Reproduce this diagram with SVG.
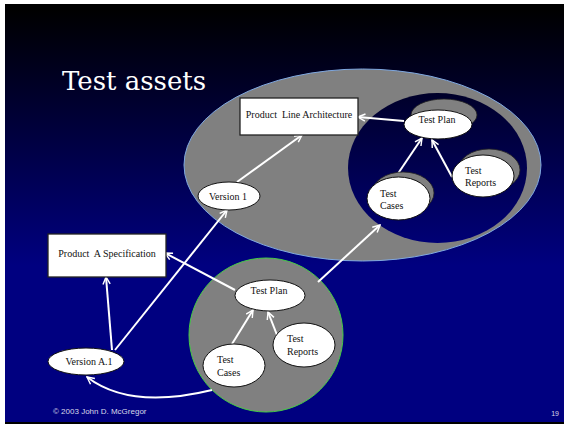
<svg xmlns="http://www.w3.org/2000/svg" width="565" height="426" viewBox="0 0 565 426">
  <defs>
    <!-- slide background: black at the top fading into navy -->
    <linearGradient id="bg" gradientUnits="userSpaceOnUse" x1="0" y1="10" x2="0" y2="265">
      <stop offset="0" stop-color="#000000"/>
      <stop offset="1" stop-color="#000080"/>
    </linearGradient>
    <marker id="open" viewBox="0 0 10 10" refX="9" refY="5" markerWidth="9" markerHeight="9" orient="auto" markerUnits="userSpaceOnUse">
      <path d="M1,1 L9,5 L1,9" fill="none" stroke="#ffffff" stroke-width="1.6"/>
    </marker>
    <style>
      .node { fill: #ffffff; stroke: #111111; stroke-width: 1; }
      .shadow { fill: #808080; stroke: #222222; stroke-width: 0.8; }
      .box { fill: #ffffff; stroke: #222222; stroke-width: 1.3; }
      .lbl { font-family: "Liberation Serif", "Times New Roman", serif; font-size: 10px; fill: #111111; }
      .mid { text-anchor: middle; }
      .conn { fill: none; stroke: #ffffff; stroke-width: 2; marker-end: url(#open); }
    </style>
  </defs>

  <!-- frame and background -->
  <rect x="0" y="0" width="565" height="426" fill="#ffffff"/>
  <rect x="5" y="4" width="559" height="420" fill="#000000"/>
  <rect x="5" y="4" width="559" height="418" fill="url(#bg)"/>

  <text x="62" y="90" font-family="DejaVu Serif, 'Liberation Serif', serif" font-size="26" fill="#ffffff">Test assets</text>

  <!-- product line container with its test area -->
  <g id="product-line">
    <ellipse cx="362.5" cy="165" rx="178.5" ry="96" fill="#808080" stroke="#7fa8e0" stroke-width="1"/>
    <ellipse cx="437.5" cy="168" rx="89.5" ry="75" fill="url(#bg)"/>
  </g>

  <!-- product A container -->
  <g id="product-a">
    <circle cx="266" cy="335" r="77" fill="#808080" stroke="#44cc44" stroke-width="1"/>
  </g>

  <g id="connectors">
    <path class="conn" d="M237,182 L302,135"/>
    <path class="conn" d="M404,121 L358,117"/>
    <path class="conn" d="M395,178 L422,138"/>
    <path class="conn" d="M452,177 L432,140"/>
    <path class="conn" d="M112,350 L106,277"/>
    <path class="conn" d="M115,350 L227,210"/>
    <path class="conn" d="M235,290 L165,253"/>
    <path class="conn" d="M318,282 L380,225"/>
    <path class="conn" d="M232,344 L253,310"/>
    <path class="conn" d="M277,335 L268,312"/>
    <path class="conn" d="M212,390 Q130,410 87,377"/>
  </g>

  <g id="pla">
    <rect class="box" x="240" y="98" width="118" height="37"/>
    <text class="lbl mid" x="299" y="117.5" xml:space="preserve">Product  Line Architecture</text>
  </g>

  <g id="version-1">
    <ellipse class="node" cx="229" cy="196" rx="31" ry="14"/>
    <text class="lbl mid" x="228" y="199.5">Version 1</text>
  </g>

  <g id="pl-test-plan">
    <ellipse class="shadow" cx="444" cy="115" rx="33" ry="16"/>
    <ellipse class="node" cx="438" cy="124.5" rx="34" ry="14.5"/>
    <text class="lbl mid" x="437" y="122.5">Test Plan</text>
  </g>

  <g id="pl-test-reports">
    <ellipse class="shadow" cx="489" cy="170" rx="31" ry="21"/>
    <ellipse class="node" cx="483" cy="176" rx="31" ry="21"/>
    <text class="lbl" x="465" y="173.5">Test</text>
    <text class="lbl" x="465" y="185.5">Reports</text>
  </g>

  <g id="pl-test-cases">
    <ellipse class="shadow" cx="403" cy="193" rx="31" ry="21"/>
    <ellipse class="node" cx="398.5" cy="198.5" rx="31.5" ry="21.5"/>
    <text class="lbl" x="380" y="197">Test</text>
    <text class="lbl" x="380" y="208.5">Cases</text>
  </g>

  <g id="spec-a">
    <rect class="box" x="48" y="234" width="118" height="43"/>
    <text class="lbl mid" x="107" y="256.5" xml:space="preserve">Product  A Specification</text>
  </g>

  <g id="a-test-plan">
    <ellipse class="node" cx="270" cy="295.5" rx="35" ry="15.5"/>
    <text class="lbl mid" x="269" y="293.5">Test Plan</text>
  </g>

  <g id="a-test-reports">
    <ellipse class="node" cx="304" cy="345" rx="31" ry="22"/>
    <text class="lbl" x="287" y="341.5">Test</text>
    <text class="lbl" x="287" y="354.5">Reports</text>
  </g>

  <g id="a-test-cases">
    <ellipse class="node" cx="234" cy="365.5" rx="31" ry="21.5"/>
    <text class="lbl" x="217" y="362.5">Test</text>
    <text class="lbl" x="217" y="375.5">Cases</text>
  </g>

  <g id="version-a1">
    <ellipse class="node" cx="86" cy="361.5" rx="38" ry="13.5"/>
    <text class="lbl mid" x="89" y="364.5">Version A.1</text>
  </g>

  <!-- footer -->
  <text x="53" y="414" font-family="'Liberation Sans', Arial, sans-serif" font-size="8" fill="#d8d8e8">© 2003 John D. McGregor</text>
  <text x="559" y="416" text-anchor="end" font-family="'Liberation Sans', Arial, sans-serif" font-size="7" fill="#d8d8e8">19</text>
</svg>
